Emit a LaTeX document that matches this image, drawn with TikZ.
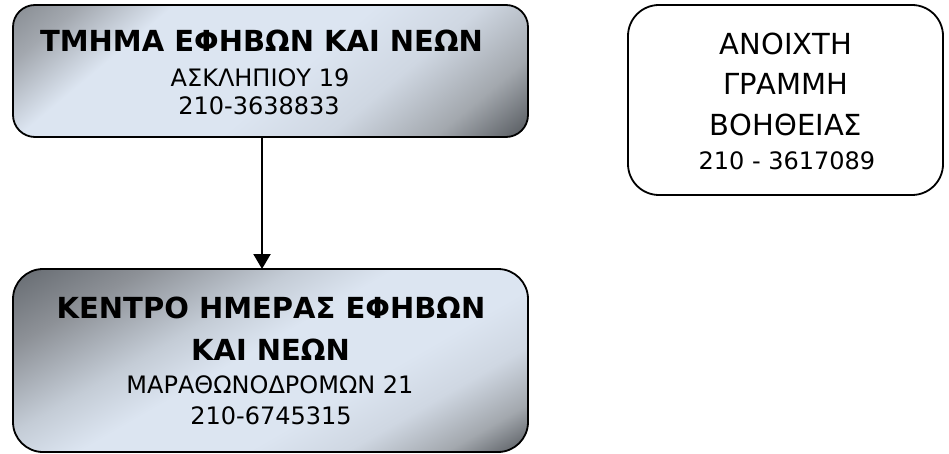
\documentclass[tikz,border=0pt]{standalone}
\usepackage{fontspec}
\setmainfont{DejaVu Sans}
\usetikzlibrary{arrows.meta}
\definecolor{mA}{HTML}{878C92}
\definecolor{mAA}{HTML}{656A70}
\definecolor{mB}{HTML}{A3A8AF}
\definecolor{mBB}{HTML}{8D9197}
\definecolor{mC}{HTML}{C4CCD6}
\definecolor{mL}{HTML}{DCE5F1}
\definecolor{mLL}{HTML}{CFD7E2}
\definecolor{mG}{HTML}{A3A8AE}
\definecolor{mD}{HTML}{53575C}
\pgfdeclarehorizontalshading{metaltop}{100bp}{color(0bp)=(mA); color(25bp)=(mA); color(30bp)=(mB); color(37bp)=(mL); color(52bp)=(mL); color(60bp)=(mLL); color(68bp)=(mG); color(75bp)=(mD); color(100bp)=(mD)}
\pgfdeclarehorizontalshading{metalbot}{100bp}{color(0bp)=(mAA); color(25bp)=(mAA); color(33bp)=(mBB); color(42bp)=(mC); color(48bp)=(mL); color(58bp)=(mL); color(64bp)=(mLL); color(70bp)=(mG); color(75bp)=(mD); color(100bp)=(mD)}
\tikzset{
  box/.style={draw=black, line width=1.8pt, inner sep=0pt, outer sep=0pt},
  ttl/.style={anchor=base, font=\fontsize{29}{34}\selectfont\bfseries},
  txt/.style={anchor=base, font=\fontsize{24}{29}\selectfont},
  big/.style={anchor=base, font=\fontsize{29}{35}\selectfont},
  arr/.style={-{Triangle[width=17pt,length=15pt]}, line width=2.2pt}
}
\begin{document}
\begin{tikzpicture}[x=1pt,y=-1pt]
\useasboundingbox (0,0) rectangle (949,454);
\fill[white] (0,0) rectangle (949,454);

% metallic fills
\begin{scope}
  \clip[rounded corners=22pt] (13,5) rectangle (528,137);
  \begin{scope}[transform canvas={shift={(270.5,71)}, rotate=-50}]
    \shade[shading=metaltop] (-216,-330) rectangle (216,330);
  \end{scope}
\end{scope}
\begin{scope}
  \clip[rounded corners=30pt] (13,269) rectangle (528,452);
  \begin{scope}[transform canvas={shift={(270.5,360.5)}, rotate=-60}]
    \shade[shading=metalbot] (-208,-330) rectangle (208,330);
  \end{scope}
\end{scope}

% top box
\node[box, rounded corners=22pt, minimum width=515pt, minimum height=132pt] (top) at (270.5,71) {};
\node[ttl] (top1) at (261.5,52) {ΤΜΗΜΑ ΕΦΗΒΩΝ ΚΑΙ ΝΕΩΝ};
\node[txt] (top2) at (260,87) {ΑΣΚΛΗΠΙΟΥ 19};
\node[txt] (top3) at (259,115) {210-3638833};

% bottom box
\node[box, rounded corners=30pt, minimum width=515pt, minimum height=183pt] (bot) at (270.5,360.5) {};
\node[ttl] (bot1) at (271,318) {ΚΕΝΤΡΟ ΗΜΕΡΑΣ ΕΦΗΒΩΝ};
\node[ttl] (bot2) at (270.5,360) {ΚΑΙ ΝΕΩΝ};
\node[txt] (bot3) at (270,393) {ΜΑΡΑΘΩΝΟΔΡΟΜΩΝ 21};
\node[txt] (bot4) at (271,424) {210-6745315};

% right box
\node[box, fill=white, rounded corners=31pt, minimum width=315pt, minimum height=190pt] (hot) at (785.5,100) {};
\node[big] (hot1) at (786,55) {ΑΝΟΙΧΤΗ};
\node[big] (hot2) at (786,95) {ΓΡΑΜΜΗ};
\node[big] (hot3) at (786,136) {ΒΟΗΘΕΙΑΣ};
\node[txt] (hot4) at (787,170) {210 - 3617089};

% connector
\coordinate (ax) at (262,0);
\draw[arr] (top.south -| ax) -- (bot.north -| ax);
\end{tikzpicture}
\end{document}
